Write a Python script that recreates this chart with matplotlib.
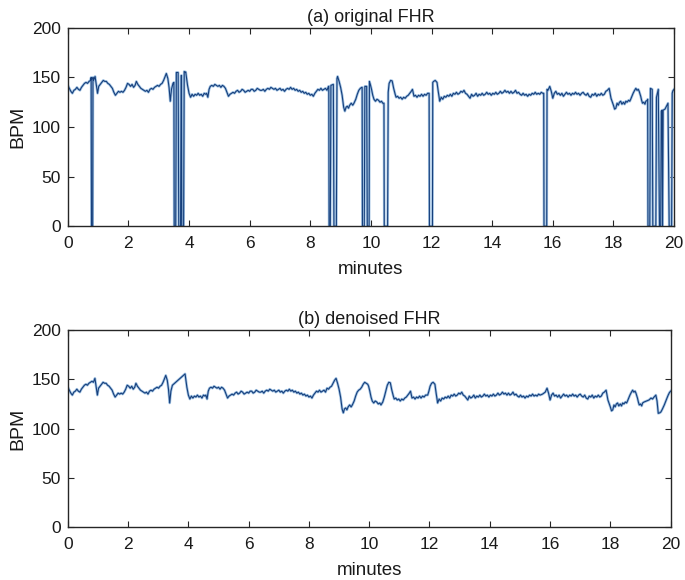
import matplotlib.pyplot as plt
import numpy as np


# =====================================================
# DATA
# =====================================================

# denoised FHR trace, minutes / BPM
clean_t = [
    0.0, 0.05, 0.1, 0.15, 0.2, 0.25, 0.3, 0.35, 0.4, 0.45,
    0.5, 0.55, 0.6, 0.65, 0.7, 0.75, 0.8, 0.85, 0.9, 0.95,
    0.98, 1.02, 1.07, 1.12, 1.17, 1.22, 1.27, 1.32, 1.37, 1.42,
    1.47, 1.52, 1.57, 1.62, 1.67, 1.72, 1.77, 1.82, 1.87, 1.92,
    1.97, 2.02, 2.07, 2.12, 2.17, 2.22, 2.26, 2.31, 2.36, 2.41,
    2.46, 2.51, 2.56, 2.61, 2.66, 2.71, 2.76, 2.81, 2.86, 2.91,
    2.96, 3.01, 3.06, 3.11, 3.16, 3.21, 3.25, 3.30, 3.34, 3.38,
    3.42, 3.47, 3.89, 3.95, 4.0, 4.05, 4.1, 4.15, 4.2, 4.25,
    4.3, 4.35, 4.4, 4.45, 4.5, 4.55, 4.58, 4.62, 4.66, 4.7,
    4.75, 4.8, 4.85, 4.9, 4.95, 5.0, 5.05, 5.1, 5.15, 5.2,
    5.25, 5.3, 5.35, 5.4, 5.45, 5.5, 5.55, 5.6, 5.65, 5.7,
    5.75, 5.8, 5.85, 5.9, 5.95, 6.0, 6.05, 6.1, 6.15, 6.2,
    6.25, 6.3, 6.35, 6.4, 6.45, 6.5, 6.55, 6.6, 6.65, 6.7,
    6.75, 6.8, 6.85, 6.9, 6.95, 7.0, 7.05, 7.1, 7.15, 7.2,
    7.25, 7.3, 7.35, 7.4, 7.45, 7.5, 7.55, 7.6, 7.65, 7.7,
    7.75, 7.8, 7.85, 7.9, 7.95, 8.0, 8.05, 8.1, 8.15, 8.2,
    8.25, 8.3, 8.35, 8.4, 8.45, 8.5, 8.55, 8.6, 8.65, 8.7,
    8.75, 8.8, 8.85, 8.9, 8.95, 9.0, 9.05, 9.1, 9.14, 9.18,
    9.22, 9.26, 9.3, 9.35, 9.4, 9.44, 9.5, 9.55, 9.6, 9.65,
    9.7, 9.75, 9.8, 9.85, 9.9, 9.95, 9.98, 10.02, 10.06, 10.1,
    10.15, 10.2, 10.25, 10.3, 10.35, 10.39, 10.45, 10.5, 10.55, 10.6,
    10.65, 10.7, 10.75, 10.8, 10.83, 10.88, 10.93, 10.98, 11.03, 11.08,
    11.13, 11.18, 11.23, 11.28, 11.33, 11.37, 11.42, 11.47, 11.52, 11.57,
    11.62, 11.67, 11.72, 11.77, 11.82, 11.87, 11.94, 11.98, 12.02, 12.07,
    12.12, 12.18, 12.22, 12.27, 12.32, 12.37, 12.42, 12.47, 12.52, 12.57,
    12.62, 12.67, 12.72, 12.77, 12.82, 12.87, 12.92, 12.97, 13.02, 13.07,
    13.12, 13.17, 13.22, 13.27, 13.32, 13.37, 13.42, 13.47, 13.52, 13.57,
    13.62, 13.67, 13.72, 13.77, 13.82, 13.87, 13.92, 13.97, 14.02, 14.07,
    14.12, 14.17, 14.22, 14.27, 14.32, 14.37, 14.42, 14.47, 14.52, 14.57,
    14.62, 14.67, 14.72, 14.77, 14.82, 14.87, 14.92, 14.97, 15.02, 15.07,
    15.12, 15.17, 15.22, 15.27, 15.32, 15.37, 15.42, 15.47, 15.52, 15.57,
    15.62, 15.67, 15.75, 15.84, 15.9, 15.95, 16.0, 16.05, 16.1, 16.15,
    16.2, 16.25, 16.3, 16.35, 16.4, 16.45, 16.5, 16.55, 16.6, 16.65,
    16.7, 16.75, 16.8, 16.85, 16.9, 16.95, 17.0, 17.05, 17.1, 17.15,
    17.2, 17.25, 17.3, 17.35, 17.4, 17.45, 17.5, 17.55, 17.6, 17.65,
    17.7, 17.75, 17.8, 17.86, 17.92, 18.0, 18.04, 18.08, 18.12, 18.16,
    18.2, 18.24, 18.28, 18.33, 18.37, 18.41, 18.45, 18.5, 18.54, 18.57,
    18.61, 18.65, 18.7, 18.74, 18.78, 18.82, 18.85, 18.9, 18.93, 18.96,
    19.0, 19.04, 19.07, 19.12, 19.2, 19.28, 19.35, 19.4, 19.45, 19.51,
    19.55, 19.59, 19.64, 19.68, 19.73, 19.79, 19.84, 19.88, 19.92, 19.96,
    20.0
]

clean_bpm = [
    142, 139, 136, 134, 137, 138, 140, 138, 137, 140,
    142, 144, 145, 144, 146, 147, 148, 147, 151, 140,
    134, 141, 143, 145, 147, 146, 146, 144, 143, 141,
    139, 135, 132, 134, 136, 135, 136, 135, 137, 140,
    144, 143, 141, 143, 140, 142, 146, 143, 141, 139,
    138, 137, 136, 137, 135, 138, 139, 138, 140, 141,
    142, 141, 143, 144, 147, 151, 154, 149, 140, 126,
    138, 144, 155.5, 142, 134, 130, 133, 131, 133, 132,
    134, 132, 133, 131, 134, 133, 134, 130, 138, 141,
    142, 141, 143, 142, 141, 142, 140, 142, 141, 139,
    135, 131, 133, 134, 135, 134, 136, 137, 135, 136,
    138, 137, 135, 136, 137, 136, 138, 138, 136, 137,
    139, 138, 137, 137, 138, 136, 138, 139, 138, 140,
    139, 138, 139, 137, 138, 139, 137, 138, 136, 138,
    139, 138, 140, 138, 139, 137, 138, 136, 137, 135,
    136, 134, 135, 133, 134, 132, 133, 131, 134, 136,
    138, 137, 139, 137, 138, 139, 137, 141, 140, 142,
    143, 146, 149, 151, 146, 140, 132, 120, 116, 120,
    121, 119, 122, 124, 122, 124, 128, 133, 137, 139,
    140, 142, 145, 147, 146, 145, 143, 138, 132, 128,
    126, 128, 127, 125, 126, 124, 127, 132, 138, 144,
    147, 146.5, 139, 133, 130, 131, 129, 130, 128, 130,
    129, 131, 132, 134, 136, 138, 131, 132, 130, 132,
    131, 133, 131, 133, 132, 134, 134, 138, 143, 146,
    147, 145, 136, 126, 130, 128, 131, 130, 132, 131,
    133, 131, 134, 133, 135, 133, 134, 136, 135, 137,
    134, 133, 131, 129, 133, 131, 132, 134, 131, 133,
    132, 134, 132, 133, 135, 133, 134, 132, 134, 133,
    135, 133, 134, 136, 134, 135, 137, 135, 136, 134,
    136, 134, 135, 137, 134, 135, 133, 132, 134, 132,
    133, 131, 133, 132, 134, 133, 135, 133, 134, 133,
    135, 134, 135, 137, 141, 136, 129, 134, 136, 133,
    134, 132, 134, 131, 133, 135, 133, 134, 132, 134,
    133, 135, 133, 134, 132, 134, 135, 133, 132, 134,
    131, 130, 133, 132, 134, 131, 133, 132, 134, 132,
    133, 136, 137, 139, 129, 122, 118, 119, 124, 122,
    125, 126, 123, 125, 123, 126, 125, 127, 126, 128,
    131, 134, 137, 139, 137, 138, 136, 131, 127, 124,
    125, 123, 126, 127, 128, 129, 131, 130, 132, 134,
    128, 115.5, 116, 117, 120, 124, 128, 131, 134, 136.5,
    138
]

# dropout windows of the original recording (start, end) in minutes
gap_windows = [
    (0.76, 0.84), (3.47, 3.89), (8.60, 8.90), (9.70, 9.96),
    (10.42, 10.58), (11.91, 12.05), (15.69, 15.82), (19.12, 19.95)
]

# original samples inside those windows (signal loss drops to 0)
gap_t = [
    0.77, 0.78, 0.82, 0.83,
    3.50, 3.51, 3.56, 3.58, 3.64, 3.66, 3.72, 3.74, 3.75, 3.76, 3.82, 3.84, 3.88,
    8.61, 8.62, 8.66, 8.68, 8.76, 8.78, 8.86, 8.88,
    9.71, 9.72, 9.78, 9.80, 9.86, 9.88, 9.94, 9.95,
    10.43, 10.44, 10.55, 10.57,
    11.92, 11.93, 12.03, 12.04,
    15.70, 15.71, 15.80, 15.81,
    19.13, 19.14, 19.20, 19.22, 19.28, 19.30, 19.40, 19.42, 19.48, 19.52,
    19.56, 19.58, 19.61, 19.62, 19.64, 19.70, 19.80, 19.84, 19.92, 19.94
]

gap_bpm = [
    150, 0, 0, 150,
    145, 0, 0, 155, 155, 0, 0, 152, 152, 0, 0, 156, 155,
    141, 0, 0, 142, 143, 0, 0, 149,
    140, 0, 0, 141, 141, 0, 0, 146,
    124, 0, 0, 135,
    134, 0, 0, 145,
    134, 0, 0, 138,
    128, 0, 0, 139, 138, 0, 0, 130, 138, 0,
    0, 116, 117, 0, 117, 118, 124, 0, 0, 134
]


# =====================================================
# BUILD ORIGINAL TRACE
# =====================================================

def build_original():

    keep_t = []
    keep_v = []

    for t, v in zip(clean_t, clean_bpm):

        inside = any(a < t < b for a, b in gap_windows)

        if not inside:
            keep_t.append(t)
            keep_v.append(v)

    all_t = np.array(keep_t + gap_t)
    all_v = np.array(keep_v + gap_bpm)

    order = np.argsort(all_t, kind="stable")

    return all_t[order], all_v[order]


# =====================================================
# PLOT
# =====================================================

plt.rcParams["font.family"] = ["Liberation Sans", "DejaVu Sans"]

fig = plt.figure(figsize=(6.85, 5.8), dpi=100)

ax1 = fig.add_axes([0.099, 0.610, 0.885, 0.342])
ax2 = fig.add_axes([0.099, 0.091, 0.880, 0.340])

orig_t, orig_v = build_original()

panels = [
    (ax1, orig_t, orig_v, "(a) original FHR"),
    (ax2, np.array(clean_t), np.array(clean_bpm), "(b) denoised FHR"),
]

for ax, t, v, title in panels:

    ax.plot(t, v, color="#a3c4e4", linewidth=1.9, solid_joinstyle="round")
    ax.plot(t, v, color="#163f7c", linewidth=0.8)

    ax.set_xlim(0, 20)
    ax.set_ylim(0, 200)

    ax.set_xticks(np.arange(0, 21, 2))
    ax.set_yticks(np.arange(0, 201, 50))

    ax.tick_params(
        direction="in",
        top=True,
        right=True,
        length=4,
        width=0.8,
        labelsize=12.5,
        color="#262626",
        labelcolor="#1a1a1a",
        pad=5
    )

    ax.tick_params(axis="x", pad=7)

    for spine in ax.spines.values():
        spine.set_color("#262626")
        spine.set_linewidth(1.0)

    ax.set_title(title, fontsize=13, pad=4, color="#1a1a1a")
    ax.set_xlabel("minutes", fontsize=13.5, labelpad=7, color="#1a1a1a")
    ax.set_ylabel("BPM", fontsize=14, labelpad=4, color="#1a1a1a")


plt.savefig("out.png", dpi=100)

plt.close()
